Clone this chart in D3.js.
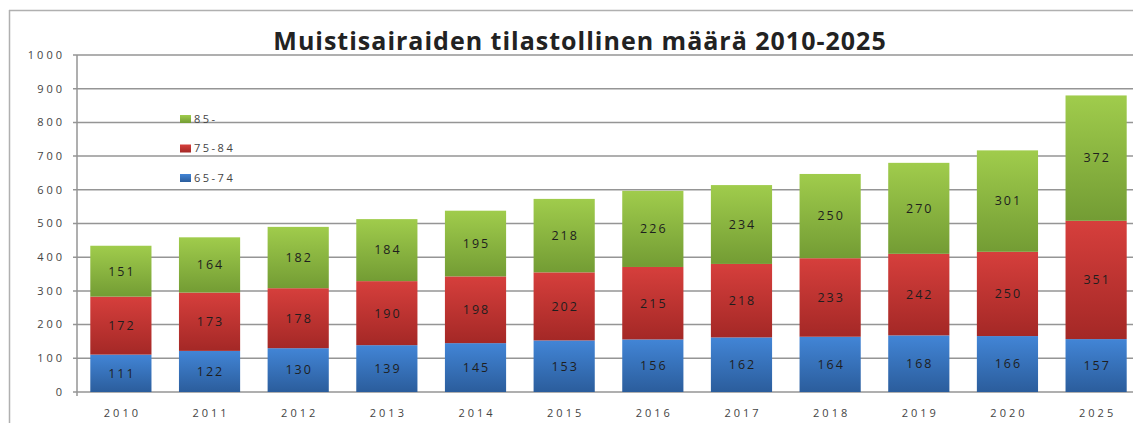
<!DOCTYPE html>
<html>
<head>
<meta charset="utf-8">
<script src="https://cdn.jsdelivr.net/npm/d3@7"></script>
<style>
  body { margin: 0; background: #fff; }
  svg { display: block; font-family: "Open Sans", "DejaVu Sans", sans-serif; }
</style>
</head>
<body>
<script>
// Chart data
const years = ["2010", "2011", "2012", "2013", "2014", "2015", "2016", "2017", "2018", "2019", "2020", "2025"];
const age6574 = [111, 122, 130, 139, 145, 153, 156, 162, 164, 168, 166, 157];
const age7584 = [172, 173, 178, 190, 198, 202, 215, 218, 233, 242, 250, 351];
const age85 = [151, 164, 182, 184, 195, 218, 226, 234, 250, 270, 301, 372];
const seriesNames = ["65-74", "75-84", "85-"];
const yTicks = [0, 100, 200, 300, 400, 500, 600, 700, 800, 900, 1000];

const width = 1133, height = 426;
const margin = { top: 55, bottom: 34, left: 77 };

const svg = d3.select("body").append("svg")
    .attr("width", width)
    .attr("height", height);

// Gradients: lighter at top, darker at bottom
const colors = {
    "65-74": ["#4285d6", "#2b5d9c"],
    "75-84": ["#d63f3c", "#a42826"],
    "85-": ["#a0cc4c", "#739c34"]
};
const defs = svg.append("defs");
seriesNames.forEach((name, i) => {
    const g = defs.append("linearGradient")
        .attr("id", "grad" + i)
        .attr("x1", 0).attr("y1", 0).attr("x2", 0).attr("y2", 1);
    g.append("stop").attr("offset", "0%").attr("stop-color", colors[name][0]);
    g.append("stop").attr("offset", "100%").attr("stop-color", colors[name][1]);
});

// Outer frame
svg.append("line").attr("x1", 9).attr("x2", width).attr("y1", 10.5).attr("y2", 10.5)
    .attr("stroke", "#b0b0b0").attr("stroke-width", 1.5);
svg.append("line").attr("x1", 9.5).attr("x2", 9.5).attr("y1", 10).attr("y2", 423)
    .attr("stroke", "#b0b0b0").attr("stroke-width", 1.5);

// Scales
const x = d3.scaleBand()
    .domain(years)
    .range([margin.left, 1140])
    .paddingInner(0.31)
    .paddingOuter(0.15);

const y = d3.scaleLinear()
    .domain([0, 1000])
    .range([height - margin.bottom, margin.top]);

// Gridlines
svg.append("g")
    .selectAll("line")
    .data(yTicks)
    .join("line")
    .attr("x1", margin.left - 4)
    .attr("x2", width)
    .attr("y1", d => y(d))
    .attr("y2", d => y(d))
    .attr("stroke", "#959595")
    .attr("stroke-width", 1.5);

// Y axis line
svg.append("line")
    .attr("x1", margin.left).attr("x2", margin.left)
    .attr("y1", y(1000)).attr("y2", y(0) + 4)
    .attr("stroke", "#959595").attr("stroke-width", 1.5);

// Y tick labels (the source is stretched sideways, hence the letter spacing)
svg.append("g")
    .selectAll("text")
    .data(yTicks)
    .join("text")
    .attr("x", margin.left - 12)
    .attr("y", d => y(d))
    .attr("dy", "0.35em")
    .attr("text-anchor", "end")
    .attr("font-size", 11)
    .attr("letter-spacing", 3)
    .attr("fill", "#444")
    .text(d => d);

// X tick labels
svg.append("g")
    .selectAll("text")
    .data(years)
    .join("text")
    .attr("x", d => x(d) + x.bandwidth() / 2 + 1.5)
    .attr("y", y(0) + 21)
    .attr("dy", "0.35em")
    .attr("text-anchor", "middle")
    .attr("font-size", 11)
    .attr("letter-spacing", 3)
    .attr("fill", "#444")
    .text(d => d);

// Stack the data
const table = years.map((yr, i) => ({
    year: yr, "65-74": age6574[i], "75-84": age7584[i], "85-": age85[i]
}));
const stacked = d3.stack().keys(seriesNames)(table);

const layers = svg.append("g")
    .selectAll("g")
    .data(stacked)
    .join("g")
    .attr("fill", (d, i) => "url(#grad" + i + ")");

layers.selectAll("rect")
    .data(d => d)
    .join("rect")
    .attr("x", d => x(d.data.year))
    .attr("width", x.bandwidth())
    .attr("y", d => y(d[1]))
    .attr("height", d => y(d[0]) - y(d[1]));

// Value labels
layers.selectAll("text")
    .data(d => d.map(v => ({ v: v, key: d.key })))
    .join("text")
    .attr("x", d => x(d.v.data.year) + x.bandwidth() / 2 + 1)
    .attr("y", d => (y(d.v[0]) + y(d.v[1])) / 2)
    .attr("dy", "0.35em")
    .attr("text-anchor", "middle")
    .attr("font-size", 12.5)
    .attr("letter-spacing", 2)
    .attr("fill", "#1e1e1e")
    .text(d => d.v.data[d.key]);

// Legend
const legendY = [178, 148.5, 119];
const legend = svg.append("g")
    .selectAll("g")
    .data(seriesNames)
    .join("g")
    .attr("transform", (d, i) => `translate(180, ${legendY[i]})`);
legend.append("rect")
    .attr("x", 0).attr("y", -4)
    .attr("width", 11).attr("height", 8)
    .attr("fill", (d, i) => "url(#grad" + i + ")");
legend.append("text")
    .attr("x", 14)
    .attr("dy", "0.35em")
    .attr("font-size", 11)
    .attr("letter-spacing", 2.5)
    .attr("fill", "#444")
    .text(d => d);

// Title
svg.append("text")
    .attr("x", 580)
    .attr("y", 41)
    .attr("dy", "0.35em")
    .attr("text-anchor", "middle")
    .attr("font-size", 25)
    .attr("letter-spacing", 1)
    .attr("font-weight", "bold")
    .attr("fill", "#222")
    .text("Muistisairaiden tilastollinen määrä 2010-2025");
</script>
</body>
</html>
